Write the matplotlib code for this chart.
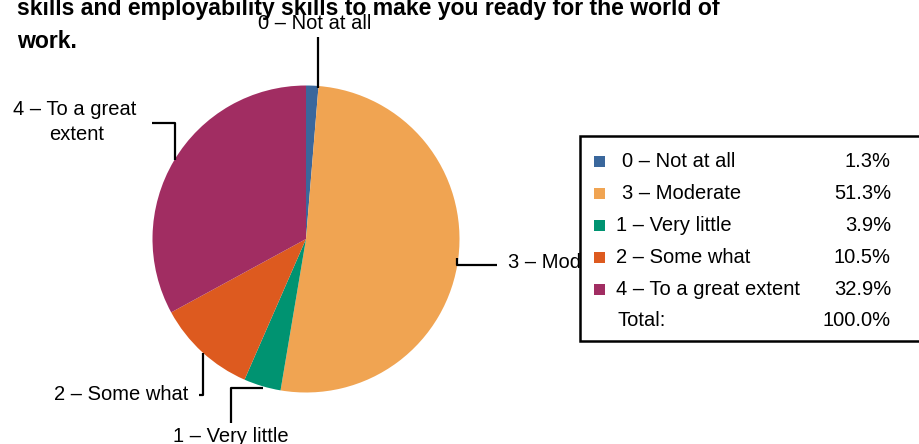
import matplotlib
matplotlib.use("Agg")
import matplotlib.pyplot as plt
from matplotlib.patches import Rectangle

categories = ["0 – Not at all", "3 – Moderate", "1 – Very little", "2 – Some what", "4 – To a great extent"]
percentages = [1.3, 51.3, 3.9, 10.5, 32.9]
colors = ["#3A679C", "#F0A452", "#009371", "#DD5A1F", "#A12D62"]
total_label = "Total:"
total_value = "100.0%"
title_lines = ["skills and employability skills to make you ready for the world of", "work."]

W, H = 920, 444
fig = plt.figure(figsize=(W / 100, H / 100), dpi=100)
ax = fig.add_axes([0, 0, 1, 1])

FONT = "Liberation Sans"
FS = 14.5

def Y(y):
    return H - y

# pie
ax.pie(percentages, colors=colors, startangle=90, counterclock=False,
       center=(306, Y(239)), radius=153.5, frame=True,
       wedgeprops=dict(linewidth=0))
ax.set_xlim(0, W)
ax.set_ylim(0, H)
ax.set_aspect("equal")
ax.axis("off")

# title
ax.text(17, Y(15), title_lines[0], fontsize=16.6, fontweight="bold", family=FONT,
        ha="left", va="baseline")
ax.text(17, Y(48), title_lines[1], fontsize=16.6, fontweight="bold", family=FONT,
        ha="left", va="baseline")

lw = 1.6
def line(xs, ys):
    ax.plot(xs, [Y(v) for v in ys], color="black", lw=lw, solid_capstyle="butt", zorder=3)

# leader lines and labels
line([318, 318], [37, 88])
ax.text(315, Y(23), categories[0], fontsize=FS, family=FONT, ha="center", va="center")

line([457, 457, 497], [258, 265, 265])
ax.text(508, Y(263), categories[1], fontsize=FS, family=FONT, ha="left", va="center", zorder=2)

line([263, 231, 231], [388, 388, 423])
ax.text(231, Y(436), categories[2], fontsize=FS, family=FONT, ha="center", va="center")

line([203, 203, 199], [353, 395, 395])
ax.text(188, Y(395), categories[3], fontsize=FS, family=FONT, ha="right", va="center")

line([152, 175, 175], [123, 123, 160])
ax.text(75, Y(109), "4 – To a great", fontsize=FS, family=FONT, ha="center", va="center")
ax.text(77, Y(134), "extent", fontsize=FS, family=FONT, ha="center", va="center")

# legend table box
ax.add_patch(Rectangle((580, Y(341)), 360, 341 - 136, facecolor="white",
                       edgecolor="black", lw=1.8, zorder=5, clip_on=True))
row_y = [161.5, 193.3, 225.5, 257.5, 289.3, 320.5]
label_x = [622, 622, 616, 616, 616]
for i, (cat, pct, col) in enumerate(zip(categories, percentages, colors)):
    ax.add_patch(Rectangle((594, Y(row_y[i]) - 5.5), 11, 11, facecolor=col,
                           edgecolor="none", zorder=6))
    ax.text(label_x[i], Y(row_y[i]), cat, fontsize=FS, family=FONT,
            ha="left", va="center", zorder=6)
    ax.text(891, Y(row_y[i]), f"{pct:.1f}%", fontsize=FS, family=FONT,
            ha="right", va="center", zorder=6)
ax.text(618, Y(row_y[5]), total_label, fontsize=FS, family=FONT, ha="left", va="center", zorder=6)
ax.text(891, Y(row_y[5]), total_value, fontsize=FS, family=FONT, ha="right", va="center", zorder=6)

fig.savefig("out.png", dpi=100)
